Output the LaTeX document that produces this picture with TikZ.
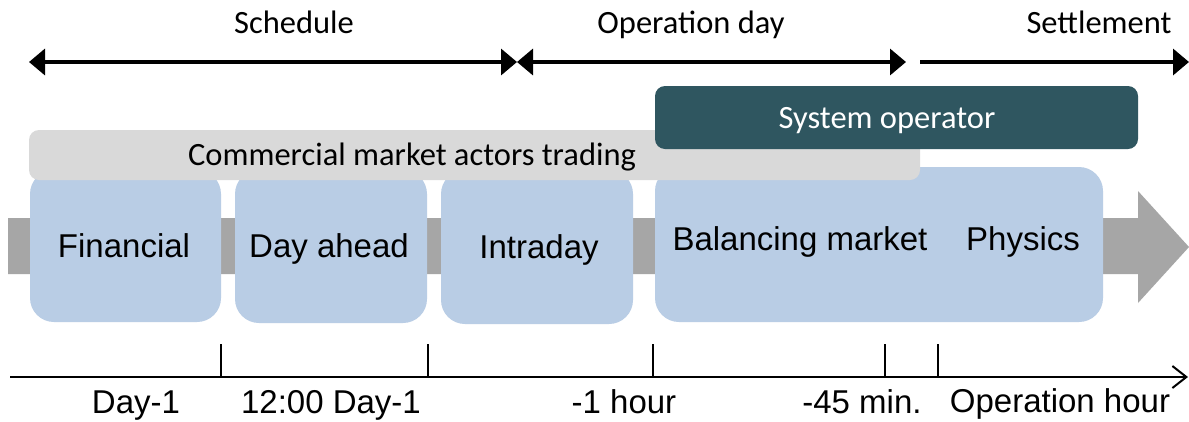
\documentclass[tikz,border=0pt]{standalone}
\usepackage{fontspec}
\setmainfont{Liberation Sans}
\newfontfamily\calib{Carlito}
\usetikzlibrary{arrows.meta}
\definecolor{boxblue}{HTML}{B9CDE5}
\definecolor{bandgray}{HTML}{A6A6A6}
\definecolor{bargray}{HTML}{D9D9D9}
\definecolor{sodark}{HTML}{2F5660}
\begin{document}
\begin{tikzpicture}[x=1pt,y=-1pt,
  phase/.style={fill=boxblue, rounded corners=24pt, inner sep=0pt},
  actorbar/.style={fill=bargray, rounded corners=10pt, inner sep=0pt},
  sobar/.style={fill=sodark, rounded corners=10pt, inner sep=0pt},
  boxlabel/.style={font=\fontsize{33}{39}\selectfont, anchor=base, inner sep=0pt},
  callabel/.style={font=\calib\fontsize{32.5}{38}\selectfont, anchor=base, inner sep=0pt},
  spanarrow/.style={line width=3.5pt},
  timeline/.style={line width=2pt, -{Straight Barb[length=14pt,width=22pt,line width=2pt]}},
  tick/.style={line width=1.5pt}
]
\useasboundingbox (0,0) rectangle (1189,421);
\fill[white] (0,0) rectangle (1189,421);

% grey band arrow
\fill[bandgray] (8,218) -- (1138,218) -- (1138,191) -- (1189,247) -- (1138,303) -- (1138,274) -- (8,274) -- cycle;

% phase boxes
\node[phase, minimum width=191pt, minimum height=152pt] (fin) at (125.5,246) {};
\node[phase, minimum width=192pt, minimum height=153pt] (dah) at (331,246.5) {};
\node[phase, minimum width=192pt, minimum height=154pt] (ind) at (537,247) {};
\node[phase, minimum width=448pt, minimum height=155pt] (bal) at (879,244.5) {};

\node[boxlabel] (finl) at (124,257) {Financial};
\node[boxlabel] (dahl) at (329,257) {Day ahead};
\node[boxlabel] (indl) at (539,258) {Intraday};
\node[boxlabel] (ball) at (800,250) {Balancing market};
\node[boxlabel] (phyl) at (1023,250) {Physics};

% commercial bar
\node[actorbar, minimum width=891pt, minimum height=50pt] (cma) at (474.5,155) {};
\node[callabel] (cmal) at (412,165) {Commercial market actors trading};

% system operator
\node[sobar, minimum width=483pt, minimum height=63pt] (so) at (896.5,117.5) {};
\node[callabel, text=white] (sol) at (887,128) {System operator};

% top labels and arrows
\node[callabel] (sch) at (294,33) {Schedule};
\node[callabel] (opd) at (691,33) {Operation day};
\node[callabel] (set) at (1099,33) {Settlement};

\coordinate (a1) at (29,62);
\coordinate (a2) at (517,62);
\coordinate (a3) at (906,62);
\coordinate (a4) at (920,62);
\coordinate (a5) at (1189,62);
\draw[spanarrow, {Triangle[length=16pt,width=26pt]}-{Triangle[length=16pt,width=26pt]}] (a1) -- (a2);
\draw[spanarrow, {Triangle[length=16pt,width=26pt]}-{Triangle[length=16pt,width=26pt]}] (a2) -- (a3);
\draw[spanarrow, -{Triangle[length=16pt,width=26pt]}] (a4) -- (a5);

% timeline
\coordinate (t0) at (10,377);
\coordinate (t1) at (1188,377);
\draw[timeline] (t0) -- (t1);
\foreach \x/\n in {221/k1,428/k2,653/k3,885/k4,938/k5}{
  \coordinate (\n t) at (\x,344);
  \coordinate (\n b) at (\x,377);
  \draw[tick] (\n t) -- (\n b);
}

\node[boxlabel] (l1) at (136,413) {Day-1};
\node[boxlabel] (l2) at (331,413) {12:00 Day-1};
\node[boxlabel] (l3) at (624,413) {-1 hour};
\node[boxlabel] (l4) at (862,413) {-45 min.};
\node[boxlabel] (l5) at (1060,412) {Operation hour};
\end{tikzpicture}
\end{document}
